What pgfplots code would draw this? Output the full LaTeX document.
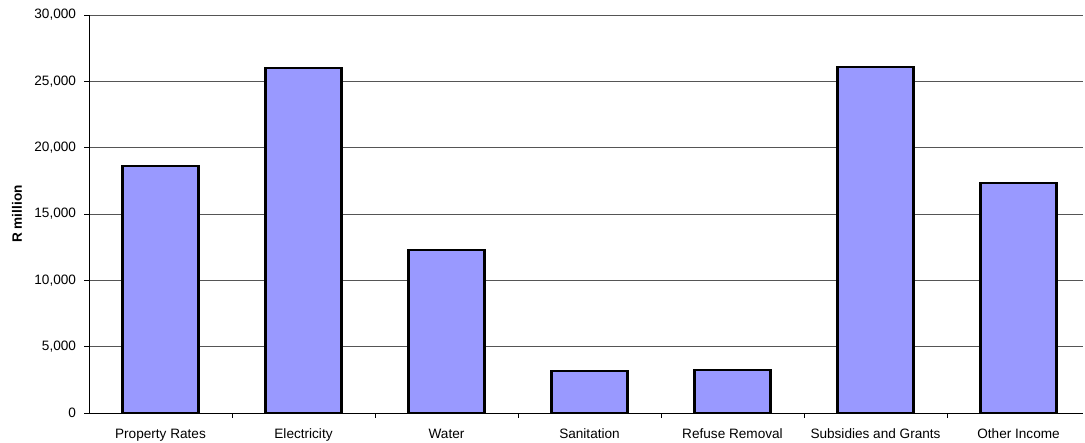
\documentclass[border=0pt]{standalone}
\usepackage{pgfplots}
\pgfplotsset{compat=1.18}
\usepackage{fontspec}
\setmainfont{Liberation Sans}
\definecolor{barfill}{HTML}{9999FF}
\definecolor{gridgray}{HTML}{555555}
\begin{document}
\begin{tikzpicture}
\useasboundingbox (0bp,0bp) rectangle (1085bp,443bp);
\begin{axis}[
  at={(89bp,30bp)}, anchor=south west,
  scale only axis, width=994bp, height=398bp,
  xmin=-0.5, xmax=6.451, ymin=0, ymax=30000,
  axis x line*=bottom, axis y line*=left,
  axis line style={black, line width=0.9bp, -},
  xtick={0,...,6},
  xticklabels={Property Rates, Electricity, Water, Sanitation, Refuse Removal, Subsidies and Grants, Other Income},
  major x tick style={draw=none},
  minor xtick={0.5,1.5,...,5.5},
  ytick={0,5000,...,30000},
  scaled y ticks=false,
  yticklabel={\pgfmathprintnumber[fixed,1000 sep={,},assume math mode=true]{\tick}},
  tick align=outside, major tick length=4.5bp, minor tick length=4.5bp,
  tick style={black, line width=0.8bp},
  ymajorgrids, major grid style={gridgray, line width=0.8bp},
  tick label style={font=\fontsize{13.6bp}{16bp}\selectfont},
  xticklabel style={yshift=-8bp},
  yticklabel style={xshift=-5bp},
  ylabel={\bfseries R million},
  every axis y label/.style={at={(axis description cs:-0.0724,0.5)}, anchor=center, rotate=90, font=\fontsize{13.6bp}{16bp}\selectfont},
]
\addplot[ybar, bar width=76bp, fill=barfill, draw=black, line width=2.2bp] coordinates {
  (0,18600) (1,26000) (2,12300) (3,3150) (4,3250) (5,26100) (6,17350)
};
\end{axis}
\end{tikzpicture}
\end{document}
